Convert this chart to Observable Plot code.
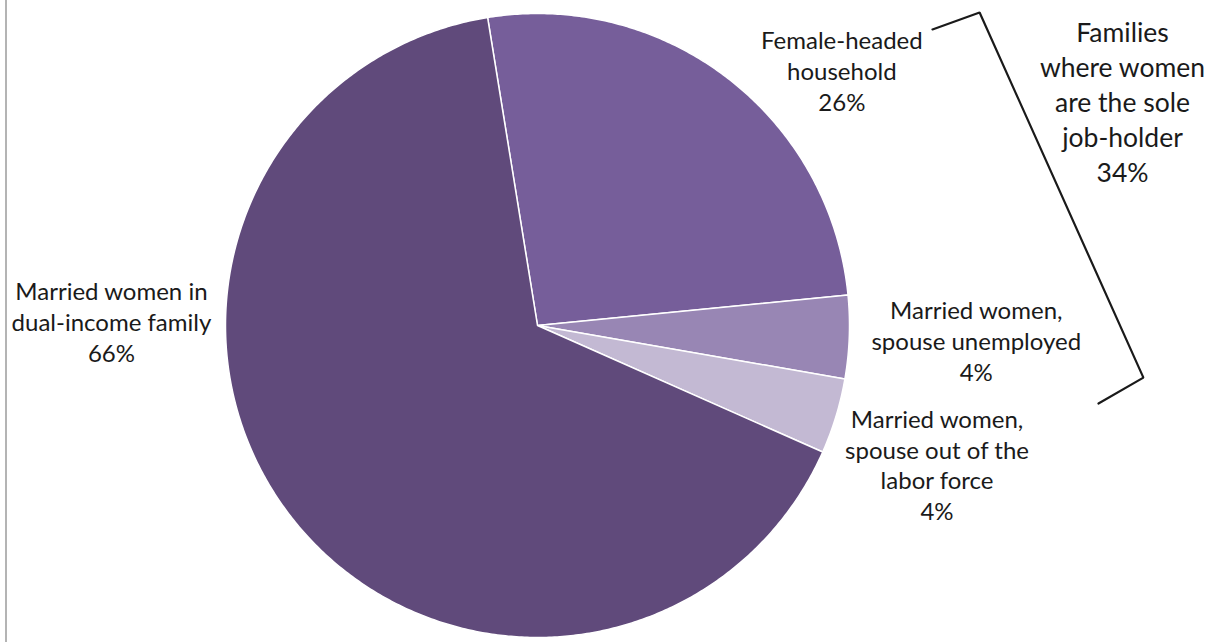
<!DOCTYPE html>
<html>
<head>
<meta charset="utf-8">
<script src="https://cdn.jsdelivr.net/npm/d3@7"></script>
<script src="https://cdn.jsdelivr.net/npm/@observablehq/plot@0.6"></script>
<style>
  html, body { margin: 0; padding: 0; background: #fff; }
  #wrap { position: relative; width: 1214px; height: 642px; overflow: hidden; }
  #edge { position: absolute; left: 5px; top: 0; width: 2px; height: 642px; background: #b4b4b4; }
</style>
</head>
<body>
<div id="wrap"><div id="edge"></div></div>
<script>
// ---- data ----
const categories = [
  "Female-headed household",
  "Married women, spouse unemployed",
  "Married women, spouse out of the labor force",
  "Married women in dual-income family"
];
const values = [26.0, 4.3, 3.9, 65.8];
const labelLines = [
  "Female-headed\nhousehold",
  "Married women,\nspouse unemployed",
  "Married women,\nspouse out of the\nlabor force",
  "Married women in\ndual-income family"
];
const groupTitle = "Families\nwhere women\nare the sole\njob-holder";
const groupMembers = [0, 1, 2];

// ---- styles / layout ----
const colors = ["#765e9a", "#9886b4", "#c3b9d3", "#604a7b"];
const labelOffsets = [[114, -8], [127, 3], [101, 48], [-179, -195]];
const W = 1214, H = 642, CX = 537, CY = 325, R = 312;
const startDeg = -9.2;
const fontFamily = "Lato, 'Open Sans', sans-serif";
// annotation brace (in pie-radius units)
const brace = [[1.266, 0.949], [1.417, 1.003], [1.942, -0.167], [1.798, -0.25]];

// ---- geometry from data ----
const rows = categories.map((c, i) => ({cat: c, value: values[i], label: labelLines[i], i}));
const a0 = startDeg * Math.PI / 180;
const arcs = d3.pie().sort(null).value(d => d.value).startAngle(a0).endAngle(a0 + 2 * Math.PI)(rows);

const polys = [];
for (const a of arcs) {
  polys.push({cat: a.data.cat, u: 0, v: 0});
  const n = Math.max(2, Math.ceil((a.endAngle - a.startAngle) / (Math.PI / 360)));
  for (let k = 0; k <= n; k++) {
    const t = a.startAngle + (a.endAngle - a.startAngle) * k / n;
    polys.push({cat: a.data.cat, u: Math.sin(t), v: Math.cos(t)});
  }
  polys.push({cat: a.data.cat, u: 0, v: 0});
}

const fmt = d3.format(".0f");
const labelMarks = arcs.map(a => {
  const m = (a.startAngle + a.endAngle) / 2;
  const d = {u: Math.sin(m), v: Math.cos(m), text: a.data.label + "\n" + fmt(a.data.value) + "%"};
  const [dx, dy] = labelOffsets[a.data.i];
  return Plot.text([d], {x: "u", y: "v", text: "text", dx, dy, textAnchor: "middle", lineAnchor: "middle",
    fontSize: 24, lineHeight: 1.28, fill: "#1a1a1a"});
});

const groupValue = d3.sum(groupMembers, i => values[i]);
const braceData = brace.map(([u, v]) => ({u, v}));

const chart = Plot.plot({
  width: W, height: H,
  margin: 0,
  style: {fontFamily, background: "transparent"},
  x: {axis: null, domain: [(0 - CX) / R, (W - CX) / R]},
  y: {axis: null, domain: [(CY - H) / R, CY / R]},
  color: {type: "ordinal", domain: categories, range: colors},
  marks: [
    Plot.line(polys, {x: "u", y: "v", z: "cat", fill: "cat", stroke: "white", strokeWidth: 1.5, strokeLinejoin: "round"}),
    ...labelMarks,
    Plot.line(braceData, {x: "u", y: "v", stroke: "#1a1a1a", strokeWidth: 2.2, strokeLinejoin: "miter"}),
    Plot.text([groupTitle + "\n" + fmt(groupValue) + "%"], {frameAnchor: "top-right", text: d => d, dx: -92, dy: 100,
      textAnchor: "middle", lineAnchor: "middle", fontSize: 26.5, lineHeight: 1.32, fill: "#1a1a1a"})
  ]
});
document.getElementById("wrap").prepend(chart);
</script>
</body>
</html>
